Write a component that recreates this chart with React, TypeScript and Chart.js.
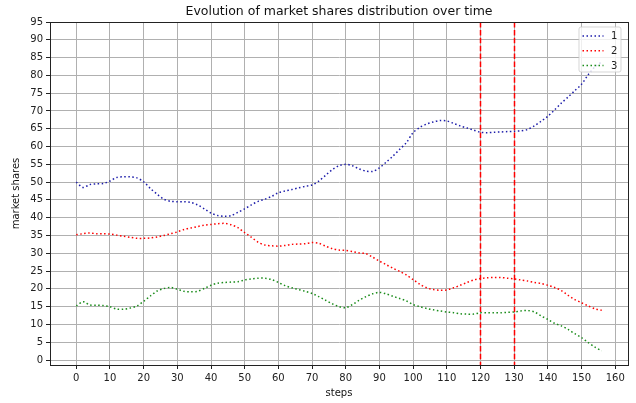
import React, { useEffect, useRef } from "react";
import { Chart, registerables } from "chart.js";

Chart.register(...registerables);

const steps: number[] = [];
for (let s = 0; s <= 156; s += 2) steps.push(s);

const series1 = [
  50.0, 48.5, 49.3, 49.5, 49.6, 50.3, 51.3, 51.5, 51.5, 51.2,
  50.1, 48.2, 46.6, 45.2, 44.6, 44.5, 44.5, 44.3, 43.6, 42.5,
  41.3, 40.6, 40.4, 40.6, 41.5, 42.5, 43.6, 44.6, 45.2, 46.0,
  47.0, 47.5, 47.9, 48.4, 48.8, 49.2, 50.3, 51.9, 53.5, 54.6,
  55.0, 54.6, 53.7, 53.1, 53.0, 54.0, 55.6, 57.3, 59.2, 61.1,
  63.9, 65.4, 66.3, 66.9, 67.3, 67.2, 66.5, 65.8, 65.2, 64.6,
  64.0, 63.9, 64.0, 64.1, 64.2, 64.3, 64.4, 64.8, 65.8, 67.1,
  68.5, 70.3, 72.2, 73.9, 75.7, 77.5, 80.2, 82.4, 83.8,
];

const series2 = [
  35.2, 35.5, 35.7, 35.5, 35.5, 35.4, 35.1, 34.8, 34.5, 34.2,
  34.2, 34.3, 34.6, 35.0, 35.5, 36.0, 36.7, 37.1, 37.5, 37.9,
  38.1, 38.3, 38.4, 38.0, 37.2, 35.8, 34.5, 33.1, 32.3, 32.1,
  32.0, 32.2, 32.5, 32.6, 32.7, 33.0, 32.8, 32.0, 31.3, 30.9,
  30.8, 30.5, 30.1, 29.9, 28.9, 27.8, 26.8, 25.8, 24.9, 23.9,
  22.6, 21.3, 20.3, 19.8, 19.6, 19.7, 20.3, 21.0, 21.8, 22.5,
  22.9, 23.1, 23.2, 23.2, 23.0, 22.8, 22.5, 22.2, 21.8, 21.5,
  21.0, 20.4, 19.5, 18.2, 17.0, 16.1, 15.2, 14.4, 14.0,
];

const series3 = [
  15.2, 16.4, 15.5, 15.4, 15.3, 15.0, 14.3, 14.3, 14.6, 15.2,
  16.5, 18.0, 19.4, 20.1, 20.4, 19.9, 19.3, 19.2, 19.3, 20.1,
  21.0, 21.6, 21.8, 21.9, 22.0, 22.5, 22.8, 23.0, 23.0, 22.6,
  21.8, 20.9, 20.3, 19.8, 19.3, 18.7, 17.8, 16.8, 15.8, 15.0,
  14.7, 15.6, 16.8, 17.8, 18.6, 19.0, 18.6, 17.9, 17.3, 16.6,
  15.6, 15.0, 14.5, 14.1, 13.8, 13.5, 13.3, 13.0, 12.9, 12.9,
  13.3, 13.3, 13.3, 13.3, 13.4, 13.5, 13.8, 13.9, 13.5, 12.4,
  11.4, 10.3, 9.6, 8.6, 7.4, 6.3, 4.9, 3.6, 2.6,
];

const seriesLabels = ["1", "2", "3"];
const seriesColors = ["#1c1caa", "#ff0000", "#1a8c1a"];
const markerSteps = [120, 130];
const xTicks = [0, 10, 20, 30, 40, 50, 60, 70, 80, 90, 100, 110, 120, 130, 140, 150, 160];
const yTicks = [0, 5, 10, 15, 20, 25, 30, 35, 40, 45, 50, 55, 60, 65, 70, 75, 80, 85, 90, 95];
const chartTitle = "Evolution of market shares distribution over time";

const FONT = "'DejaVu Sans', sans-serif";
const DOT = [1.5, 2.5];

const framePlugin = {
  id: "frameAndMarkers",
  afterDatasetsDraw(chart: any) {
    const { ctx, chartArea, scales } = chart;
    ctx.save();
    ctx.beginPath();
    ctx.rect(chartArea.left, chartArea.top, chartArea.right - chartArea.left, chartArea.bottom - chartArea.top);
    ctx.clip();
    ctx.strokeStyle = "#ff0000";
    ctx.lineWidth = 1.5;
    ctx.setLineDash([5.5, 2.4]);
    for (const m of markerSteps) {
      const x = Math.round(scales.x.getPixelForValue(m)) + 0.5;
      ctx.beginPath();
      ctx.moveTo(x, chartArea.top);
      ctx.lineTo(x, chartArea.bottom);
      ctx.stroke();
    }
    ctx.restore();
  },
  afterDraw(chart: any) {
    const { ctx, chartArea } = chart;
    ctx.save();
    ctx.strokeStyle = "#222";
    ctx.lineWidth = 1;
    ctx.strokeRect(
      Math.round(chartArea.left) + 0.5,
      Math.round(chartArea.top) + 0.5,
      Math.round(chartArea.right - chartArea.left),
      Math.round(chartArea.bottom - chartArea.top)
    );
    // title, centred over the plot area
    ctx.fillStyle = "#111";
    ctx.font = `12.5px ${FONT}`;
    ctx.textAlign = "center";
    ctx.textBaseline = "middle";
    ctx.fillText(chartTitle, (chartArea.left + chartArea.right) / 2, 12);
    // legend
    const bw = 42, bh = 45;
    const bx = chartArea.right - 7 - bw;
    const by = chartArea.top + 5;
    ctx.fillStyle = "rgba(255,255,255,0.8)";
    ctx.strokeStyle = "rgba(204,204,204,0.8)";
    ctx.lineWidth = 1;
    ctx.setLineDash([]);
    const r = 2;
    ctx.beginPath();
    ctx.moveTo(bx + r, by);
    ctx.lineTo(bx + bw - r, by);
    ctx.quadraticCurveTo(bx + bw, by, bx + bw, by + r);
    ctx.lineTo(bx + bw, by + bh - r);
    ctx.quadraticCurveTo(bx + bw, by + bh, bx + bw - r, by + bh);
    ctx.lineTo(bx + r, by + bh);
    ctx.quadraticCurveTo(bx, by + bh, bx, by + bh - r);
    ctx.lineTo(bx, by + r);
    ctx.quadraticCurveTo(bx, by, bx + r, by);
    ctx.closePath();
    ctx.fill();
    ctx.stroke();
    chart.data.datasets.forEach((ds: any, i: number) => {
      const y = by + 9 + i * 14.8;
      ctx.strokeStyle = ds.borderColor;
      ctx.lineWidth = 1.5;
      ctx.setLineDash(DOT);
      ctx.beginPath();
      ctx.moveTo(bx + 3.5, y);
      ctx.lineTo(bx + 24.5, y);
      ctx.stroke();
      ctx.setLineDash([]);
      ctx.fillStyle = "#222";
      ctx.font = `10px ${FONT}`;
      ctx.textAlign = "left";
      ctx.textBaseline = "middle";
      ctx.fillText(ds.label, bx + 32, y + 0.5);
    });
    ctx.restore();
  },
};

export default function App() {
  const canvasRef = useRef<HTMLCanvasElement | null>(null);

  useEffect(() => {
    document.body.style.margin = "0";
    const canvas = canvasRef.current;
    if (!canvas) return;
    const allSeries = [series1, series2, series3];
    const chart = new Chart(canvas, {
      type: "line",
      data: {
        datasets: allSeries.map((vals, k) => ({
          label: seriesLabels[k],
          data: steps.map((s, i) => ({ x: s, y: vals[i] })),
          borderColor: seriesColors[k],
          backgroundColor: seriesColors[k],
          borderWidth: 1.5,
          borderDash: DOT,
          pointRadius: 0,
          tension: 0.3,
          fill: false,
        })),
      },
      options: {
        animation: false,
        responsive: false,
        maintainAspectRatio: false,
        devicePixelRatio: 1,
        layout: { padding: { left: 8, right: 8, top: 22, bottom: 0 } },
        plugins: {
          legend: { display: false },
          tooltip: { enabled: false },
          title: { display: false },
        },
        scales: {
          x: {
            type: "linear",
            min: -7.8,
            max: 163.8,
            afterFit: (scale: any) => { scale.height = 38; },
            afterBuildTicks: (scale: any) => { scale.ticks = xTicks.map((v) => ({ value: v })); },
            ticks: {
              color: "#222",
              font: { family: FONT, size: 10 },
              padding: 3,
              maxRotation: 0,
              autoSkip: false,
            },
            grid: { color: "#b0b0b0", lineWidth: 1, tickColor: "#222", tickLength: 4 },
            border: { display: true, color: "#222" },
            title: {
              display: true,
              text: "steps",
              color: "#111",
              font: { family: FONT, size: 10 },
              padding: { top: 2, bottom: 4 },
            },
          },
          y: {
            type: "linear",
            min: -1.4,
            max: 95,
            afterFit: (scale: any) => { scale.width = 42; },
            afterBuildTicks: (scale: any) => { scale.ticks = yTicks.map((v) => ({ value: v })); },
            ticks: {
              color: "#222",
              font: { family: FONT, size: 10 },
              padding: 3,
              autoSkip: false,
            },
            grid: { color: "#b0b0b0", lineWidth: 1, tickColor: "#222", tickLength: 4 },
            border: { display: true, color: "#222" },
            title: {
              display: true,
              text: "market shares",
              color: "#111",
              font: { family: FONT, size: 10 },
              padding: { top: 2, bottom: 2 },
            },
          },
        },
      },
      plugins: [framePlugin],
    } as any);
    return () => chart.destroy();
  }, []);

  return (
    <div style={{ width: 636, height: 403, position: "relative" }}>
      <canvas ref={canvasRef} width={636} height={403} style={{ width: 636, height: 403, display: "block" }} />
    </div>
  );
}
